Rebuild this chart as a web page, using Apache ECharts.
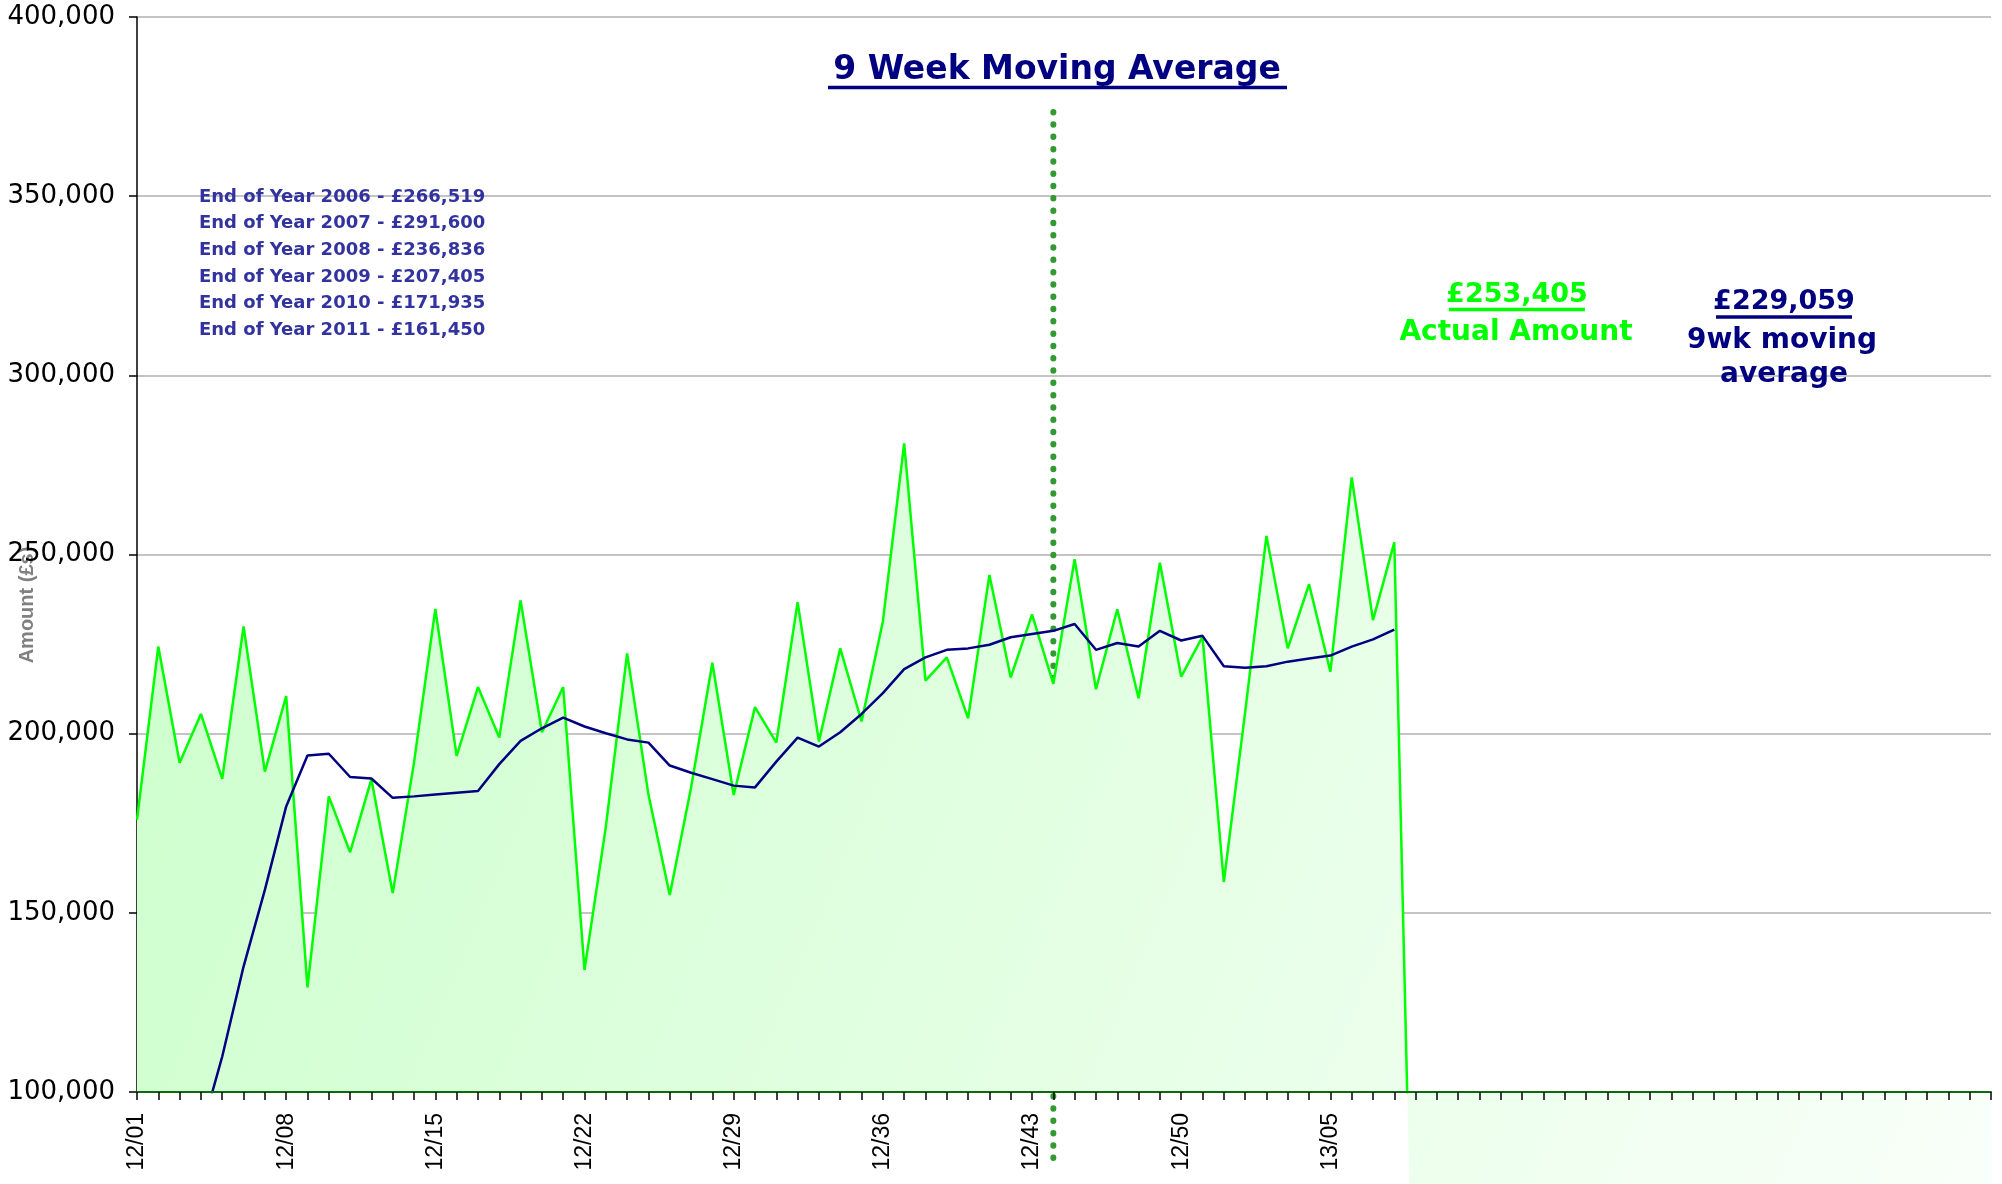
<!DOCTYPE html>
<html>
<head>
<meta charset="utf-8">
<title>9 Week Moving Average</title>
<script src="https://cdn.jsdelivr.net/npm/echarts@6/dist/echarts.min.js"></script>
<style>
  html, body { margin: 0; padding: 0; background: #fff; }
  #chart { width: 2002px; height: 1184px; }
</style>
</head>
<body>
<div id="chart"></div>
<script>
// week commencing (year/ week no.)
const weeks = [
  '12/01', '12/02', '12/03', '12/04', '12/05', '12/06', '12/07', '12/08', '12/09', '12/10',
  '12/11', '12/12', '12/13', '12/14', '12/15', '12/16', '12/17', '12/18', '12/19', '12/20',
  '12/21', '12/22', '12/23', '12/24', '12/25', '12/26', '12/27', '12/28', '12/29', '12/30',
  '12/31', '12/32', '12/33', '12/34', '12/35', '12/36', '12/37', '12/38', '12/39', '12/40',
  '12/41', '12/42', '12/43', '12/44', '12/45', '12/46', '12/47', '12/48', '12/49', '12/50',
  '12/51', '12/52', '13/01', '13/02', '13/03', '13/04', '13/05', '13/06', '13/07', '13/08',
  '13/09', '13/10', '13/11', '13/12', '13/13', '13/14', '13/15', '13/16', '13/17', '13/18',
  '13/19', '13/20', '13/21', '13/22', '13/23', '13/24', '13/25', '13/26', '13/27', '13/28',
  '13/29', '13/30', '13/31', '13/32', '13/33', '13/34', '13/35', '13/36'
];

// weekly actual amount (£), future weeks are 0
const actualAmount = [
  176000, 224300, 191900, 205500, 187400, 229900, 189400, 210500, 129200, 182500,
  166900, 187300, 155500, 192000, 234800, 193800, 213000, 198900, 237200, 200400,
  213000, 134100, 174000, 222400, 183000, 155000, 185000, 219800, 182900, 207400,
  197500, 236700, 197800, 223800, 203400, 231300, 281000, 214800, 221300, 204300,
  244300, 215700, 233300, 213900, 248700, 212400, 234700, 209900, 247700, 215900,
  227100, 158600, 206000, 255200, 223800, 241700, 217300, 271500, 231700, 253405,
  0, 0, 0, 0, 0, 0, 0, 0, 0, 0,
  0, 0, 0, 0, 0, 0, 0, 0, 0, 0,
  0, 0, 0, 0, 0, 0, 0, 0
];

// 9 week moving average (£)
const movingAverage = [
  19600, 44500, 65800, 88600, 109900, 135000, 156400, 179700, 193900, 194400,
  187900, 187500, 182100, 182500, 183000, 183500, 184000, 191500, 198000, 201500,
  204500, 202000, 200100, 198400, 197500, 191100, 189100, 187300, 185500, 185000,
  192200, 198900, 196400, 200400, 205500, 211300, 218000, 221300, 223400, 223800,
  224800, 226900, 227800, 228700, 230600, 223400, 225300, 224300, 228700, 226000,
  227300, 218800, 218400, 218800, 220100, 221000, 221800, 224300, 226300, 229059
];

const yMin = 100000;
const yMax = 400000;
const yStep = 50000;
const labelEvery = 7;
const lastLabelledWeek = '13/05';
const markerWeek = '12/44';

const endOfYearNotes = [
  'End of Year 2006 - £266,519',
  'End of Year 2007 - £291,600',
  'End of Year 2008 - £236,836',
  'End of Year 2009 - £207,405',
  'End of Year 2010 - £171,935',
  'End of Year 2011 - £161,450'
];
const latestActual = '£253,405';
const latestAverage = '£229,059';

const chart = echarts.init(document.getElementById('chart'));
const lastLabelIndex = weeks.indexOf(lastLabelledWeek);

const areaFill = new echarts.graphic.LinearGradient(137, 400, 1991, 1184, [
  { offset: 0, color: '#ccffcc' },
  { offset: 1, color: '#f9fff9' }
], true);

const option = {
  animation: false,
  backgroundColor: '#fff',
  grid: {
    left: 137,
    right: 11,
    top: 17,
    bottom: 92,
    containLabel: false
  },
  xAxis: {
    type: 'category',
    data: weeks,
    boundaryGap: false,
    z: 5,
    axisLine: {
      lineStyle: { color: '#0f6a0f', width: 2 }
    },
    axisTick: {
      interval: 0,
      length: 8,
      lineStyle: { color: '#000', width: 1.5 }
    },
    axisLabel: {
      interval: (i) => i % labelEvery === 0 && i <= lastLabelIndex,
      rotate: 90,
      margin: 21,
      color: '#000',
      fontFamily: 'Liberation Sans',
      fontSize: 23
    },
    splitLine: { show: false }
  },
  yAxis: {
    type: 'value',
    min: yMin,
    max: yMax,
    interval: yStep,
    axisLine: {
      show: true,
      lineStyle: { color: '#000', width: 1.5 }
    },
    axisTick: {
      show: true,
      length: 8,
      lineStyle: { color: '#000', width: 1.5 }
    },
    axisLabel: {
      margin: 22,
      color: '#000',
      fontFamily: 'DejaVu Sans',
      fontSize: 26,
      formatter: (v) => v.toLocaleString('en-GB')
    },
    splitLine: {
      lineStyle: { color: '#c4c4c4', width: 2 }
    }
  },
  series: [
    {
      // fill only, not clipped so the zero weeks spill under the axis
      name: 'area',
      type: 'line',
      data: actualAmount,
      silent: true,
      clip: false,
      showSymbol: false,
      z: 1,
      lineStyle: { width: 0, opacity: 0 },
      areaStyle: { color: areaFill, opacity: 1, origin: 'start' }
    },
    {
      name: 'Actual Amount',
      type: 'line',
      data: actualAmount,
      showSymbol: false,
      z: 3,
      lineStyle: { color: '#00ff00', width: 2.5 }
    },
    {
      name: '9wk moving average',
      type: 'line',
      data: movingAverage,
      showSymbol: false,
      z: 4,
      lineStyle: { color: '#000080', width: 2.5 }
    }
  ]
};

chart.setOption(option);

const markerX = chart.convertToPixel({ xAxisIndex: 0 }, markerWeek);

const textEl = (text, x, y, font, fill, extra) => Object.assign({
  type: 'text',
  x: x,
  y: y,
  style: { text: text, font: font, fill: fill, align: 'center', verticalAlign: 'middle' }
}, extra || {});

const underline = (x1, x2, y, color, width) => ({
  type: 'line',
  shape: { x1: x1, y1: y, x2: x2, y2: y },
  style: { stroke: color, lineWidth: width }
});

const graphics = [
  // dotted marker line
  {
    type: 'line',
    shape: { x1: markerX, y1: 112, x2: markerX, y2: 1167 },
    style: { stroke: '#339933', lineWidth: 6, lineDash: [0.5, 11.8], lineCap: 'round' }
  },
  textEl('9 Week Moving Average', 1057, 70, 'bold 33px "DejaVu Sans"', '#000080'),
  underline(828, 1287, 87.5, '#000080', 3.3),
  textEl(latestActual, 1517, 295, 'bold 27px "DejaVu Sans"', '#00ff00'),
  underline(1449, 1585, 309.5, '#00ff00', 3.5),
  textEl('Actual Amount', 1516, 333, 'bold 28px "DejaVu Sans"', '#00ff00'),
  textEl(latestAverage, 1784, 302, 'bold 27px "DejaVu Sans"', '#000080'),
  underline(1716, 1852, 317, '#000080', 3.5),
  textEl('9wk moving', 1782, 341, 'bold 28px "DejaVu Sans"', '#000080'),
  textEl('average', 1784, 375, 'bold 28px "DejaVu Sans"', '#000080'),
  textEl('week commencing (year/ week no.)', 1023, 1039, 'bold 20px "DejaVu Sans"', '#808080'),
  textEl('Amount (£s)', 27, 605, 'bold 20px "Liberation Sans"', '#808080', { rotation: Math.PI / 2 })
];

endOfYearNotes.forEach((note, i) => {
  graphics.push({
    type: 'text',
    x: 199,
    y: 197 + i * 26.7,
    style: {
      text: note,
      font: 'bold 18px "DejaVu Sans"',
      fill: '#3333a0',
      align: 'left',
      verticalAlign: 'middle'
    }
  });
});

chart.setOption({ graphic: graphics });

window.addEventListener('resize', () => {
  chart.resize();
});
</script>
</body>
</html>
